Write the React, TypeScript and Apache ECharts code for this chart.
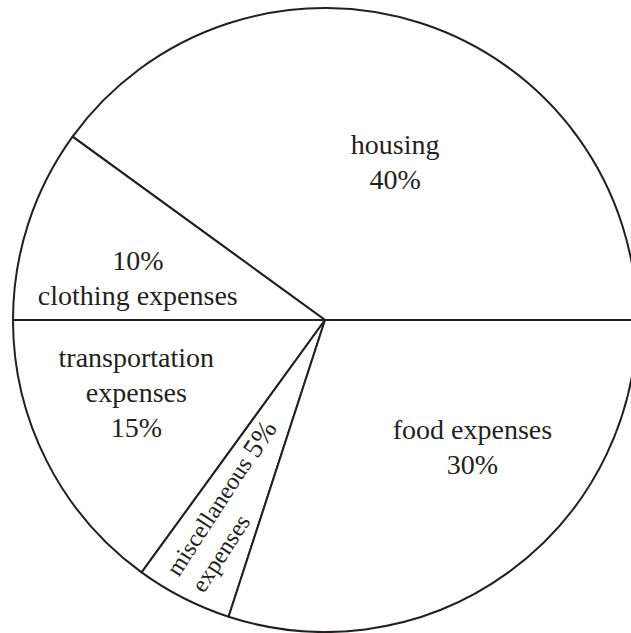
import React, { useEffect, useRef } from "react";
import * as echarts from "echarts";

// ---- data ----
const categories = [
  "housing",
  "clothing expenses",
  "transportation expenses",
  "miscellaneous expenses",
  "food expenses",
];
const values = [40, 10, 15, 5, 30];

// label text templates ({p} = percent)
const labelTemplates = [
  "{t|housing}\n{t|{p}}",
  "{t|{p}}\n{t|clothing expenses}",
  "{t|transportation}\n{t|expenses}\n{t|{p}}",
  "{m|miscellaneous }{q|{p}}\n{m|expenses}",
  "{t|food expenses}\n{t|{p}}",
];

// label placement tweaks (offset from default inside anchor, in the label's own frame) and rotation
const labelOffsets: [number, number][] = [
  [21, -7],
  [-36, 7],
  [-47, 0],
  [-48, 8],
  [54, -2],
];
const labelRotations = [0, 0, 0, 57, 0];

const INK = "#231f20";
const FONT = "'Liberation Serif', 'Times New Roman', serif";

export default function App() {
  const ref = useRef<HTMLDivElement>(null);
  useEffect(() => {
    if (!ref.current) return;
    const chart = echarts.init(ref.current, null, { renderer: "svg" });
    const total = values.reduce((a, b) => a + b, 0);
    chart.setOption({
      animation: false,
      backgroundColor: "#ffffff",
      series: [
        {
          type: "pie",
          center: [325, 320],
          radius: 312,
          startAngle: 0,
          clockwise: false,
          avoidLabelOverlap: false,
          silent: true,
          itemStyle: { color: "#ffffff", borderColor: INK, borderWidth: 2 },
          labelLine: { show: false },
          emphasis: { disabled: true },
          label: {
            show: true,
            position: "inside",
            color: INK,
            fontFamily: FONT,
            fontSize: 28,
            rich: {
              t: { fontFamily: FONT, fontSize: 28, lineHeight: 35, color: INK },
              m: { fontFamily: FONT, fontSize: 24, lineHeight: 30, color: INK, align: "left" },
              q: { fontFamily: FONT, fontSize: 28, lineHeight: 30, color: INK, align: "left" },
            },
            formatter: (p: any) => {
              const pct = Math.round((values[p.dataIndex] / total) * 100) + "%";
              return labelTemplates[p.dataIndex].replace("{p}", pct);
            },
          },
          labelLayout: (params: any) => ({
            dx: labelOffsets[params.dataIndex][0],
            dy: labelOffsets[params.dataIndex][1],
          }),
          data: categories.map((name, i) => ({
            name,
            value: values[i],
            label: { rotate: labelRotations[i] },
          })),
        },
      ],
    });
    return () => chart.dispose();
  }, []);
  return (
    <div
      ref={ref}
      style={{ position: "absolute", left: 0, top: 0, width: 631, height: 633, background: "#fff" }}
    />
  );
}
